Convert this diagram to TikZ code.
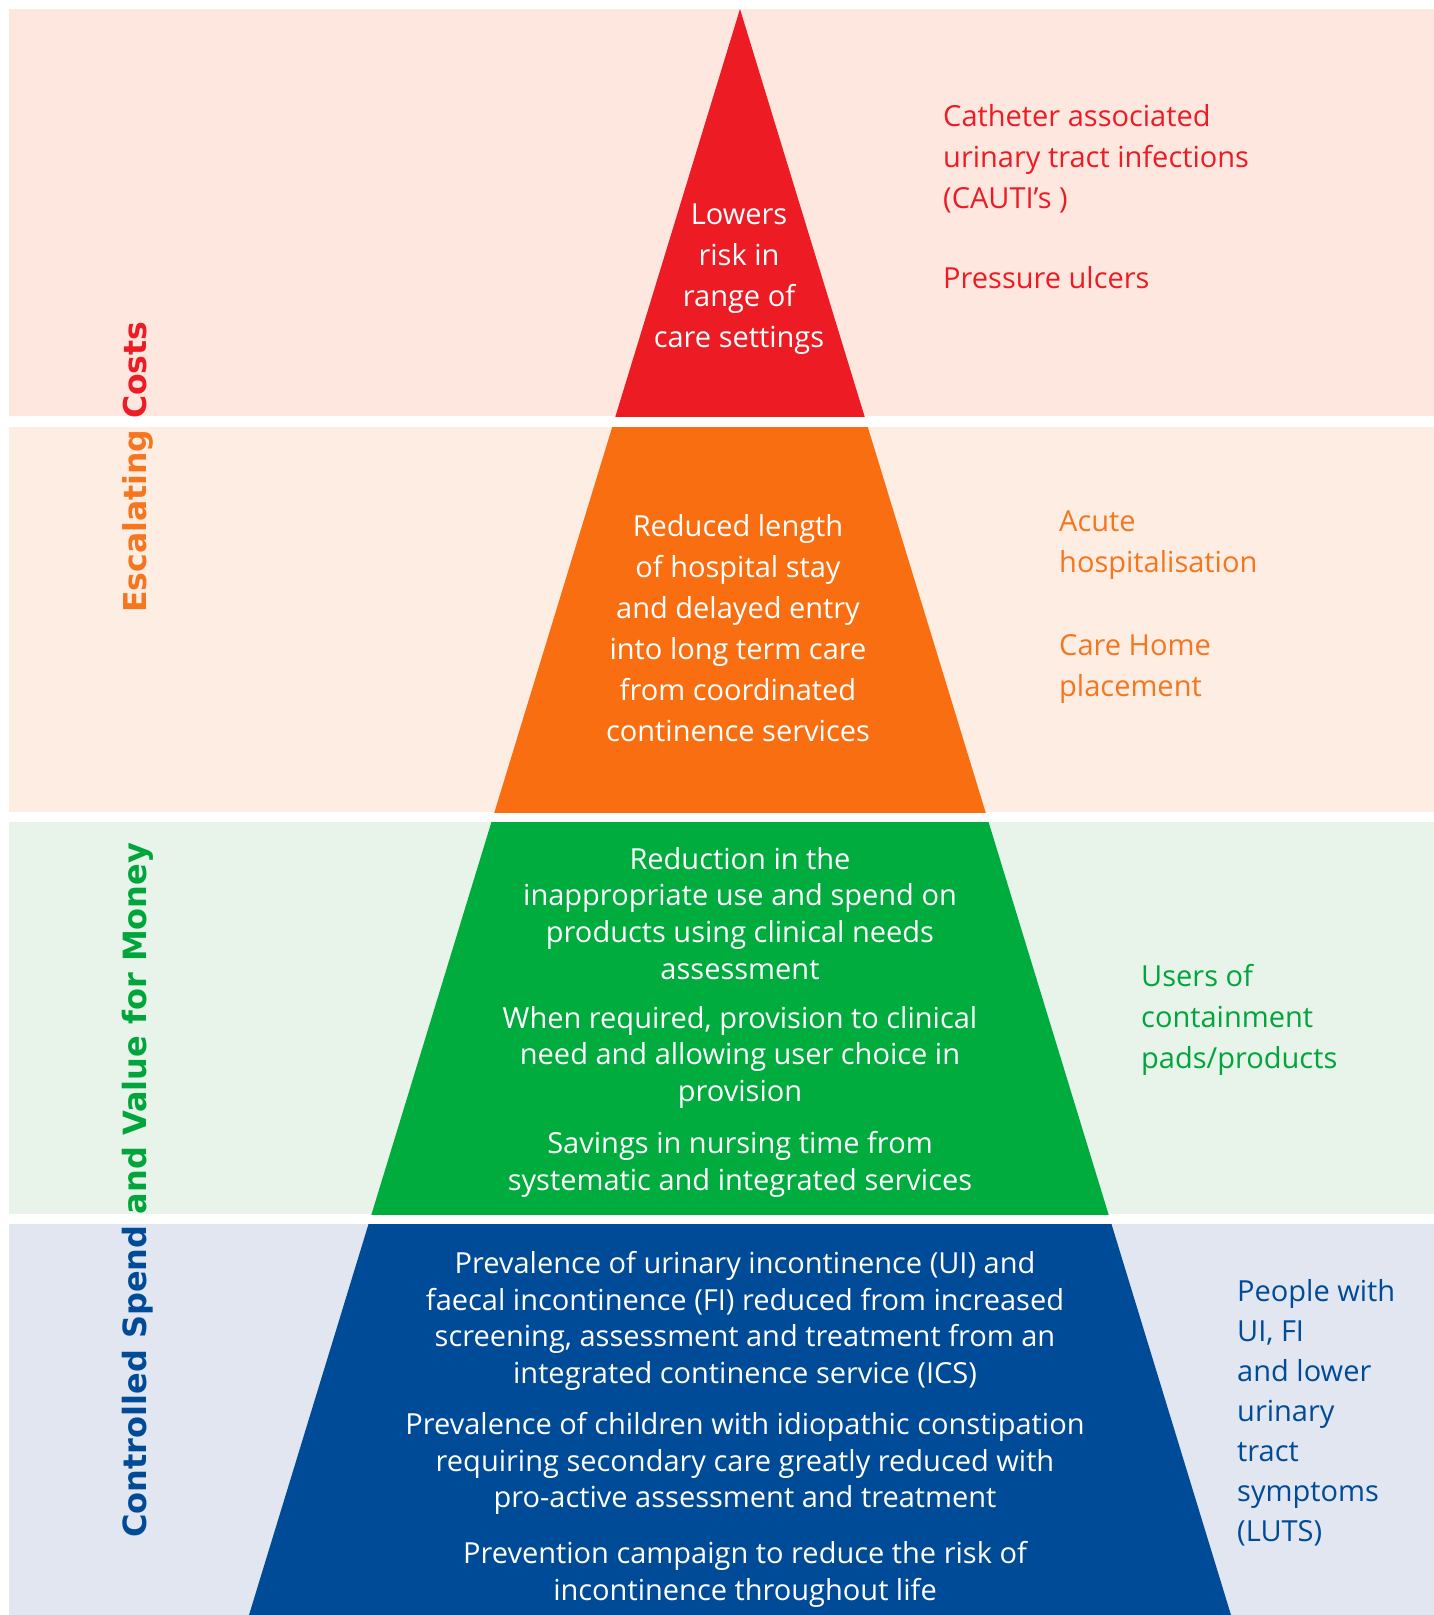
\documentclass[tikz,border=0pt]{standalone}
\usepackage{fontspec}
\setmainfont{Open Sans}
\newfontfamily\sidefont{DejaVu Sans}
\definecolor{tierred}{RGB}{237,28,36}
\definecolor{tierorange}{RGB}{250,110,18}
\definecolor{tiergreen}{RGB}{0,172,62}
\definecolor{tierblue}{RGB}{0,75,151}
\definecolor{bgred}{RGB}{253,231,223}
\definecolor{bgorange}{RGB}{253,237,226}
\definecolor{bggreen}{RGB}{232,243,233}
\definecolor{bgblue}{RGB}{225,230,240}
\definecolor{txtorange}{RGB}{245,118,30}
\definecolor{txtgreen}{RGB}{0,165,60}

\begin{document}
\begin{tikzpicture}[x=1pt,y=-1pt,
  inside/.style={white,align=center,inner sep=0pt,anchor=north},
  side/.style={align=left,inner sep=0pt,anchor=north west},
  wide/.style={font=\fontsize{29}{41}\selectfont},
  tight/.style={font=\fontsize{29}{36.7}\selectfont},
  upright/.style={rotate=90,anchor=base west,inner sep=0pt}]
  \def\ax{740}
  \def\bl{249}
  \def\br{1231}
  \def\tier(#1,#2)[#3]#4{%
    \fill[#4] (9,#1) rectangle (1434,#2);
    \begin{scope}
      \clip (9,#1) rectangle (1434,#2);
      \fill[#3] (\ax,9) -- (\bl,1615) -- (\br,1615) -- cycle;
    \end{scope}
  }
  \useasboundingbox[fill=white] (0,0) rectangle (1434,1615);
  \tier(9,416)[tierred]{bgred}
  \tier(427,812)[tierorange]{bgorange}
  \tier(822,1214)[tiergreen]{bggreen}
  \tier(1224,1615)[tierblue]{bgblue}

  % inside the pyramid
  \node[inside,wide] (lowrisk) at (739,204) {Lowers\\risk in\\range of\\care settings};
  \node[inside,wide] (stay) at (738,514) {Reduced length\\of hospital stay\\and delayed entry\\into long term care\\from coordinated\\continence services};
  \node[inside,tight] (spend) at (740,847) {Reduction in the\\inappropriate use and spend on\\products using clinical needs\\assessment};
  \node[inside,tight] (choice) at (740,1006) {When required, provision to clinical\\need and allowing user choice in\\provision};
  \node[inside,tight] (nursing) at (740,1131) {Savings in nursing time from\\systematic and integrated services};
  \node[inside,tight] (prevalence) at (745,1251) {Prevalence of urinary incontinence (UI) and\\faecal incontinence (FI) reduced from increased\\screening, assessment and treatment from an\\integrated continence service (ICS)};
  \node[inside,tight] (children) at (745,1412) {Prevalence of children with idiopathic constipation\\requiring secondary care greatly reduced with\\pro-active assessment and treatment};
  \node[inside,tight] (campaign) at (745,1541) {Prevention campaign to reduce the risk of\\incontinence throughout life};

  % right hand labels
  \node[side,wide,tierred] (cauti) at (943,104) {Catheter associated\\urinary tract infections\\(CAUTI’s )};
  \node[side,wide,tierred] (ulcers) at (943,266) {Pressure ulcers};
  \node[side,wide,txtorange] (acute) at (1059,511) {Acute\\hospitalisation};
  \node[side,wide,txtorange] (carehome) at (1059,634) {Care Home\\placement};
  \node[side,wide,txtgreen] (pads) at (1141,964) {Users of\\containment\\pads/products};
  \node[side,font=\fontsize{29}{40}\selectfont,tierblue] (luts) at (1237,1279) {People with\\UI, FI\\and lower\\urinary\\tract\\symptoms\\(LUTS)};

  % left hand captions
  \node[upright,font=\sidefont\bfseries\fontsize{31.5}{32}\selectfont] (costs) at (146,613) {\textcolor{txtorange}{Escalating} \textcolor{tierred}{Costs}};
  \node[upright,font=\sidefont\bfseries\fontsize{32}{32}\selectfont] (money) at (146,1538) {\textcolor{tierblue}{Controlled Spend} \textcolor{txtgreen}{and Value for Money}};
\end{tikzpicture}
\end{document}
